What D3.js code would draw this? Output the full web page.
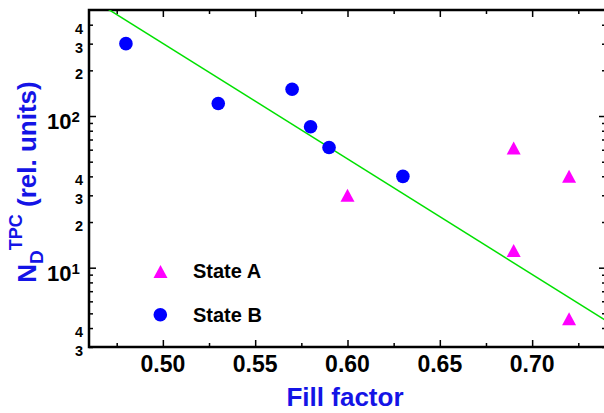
<!DOCTYPE html>
<html>
<head>
<meta charset="utf-8">
<script src="https://cdn.jsdelivr.net/npm/d3@7/dist/d3.min.js"></script>
<style>
  html, body { margin: 0; padding: 0; background: #fff; }
  svg { display: block; }
  text { font-family: "Liberation Sans", Arial, sans-serif; font-weight: bold; }
</style>
</head>
<body>
<svg id="chart" width="604" height="413"></svg>
<script>
// ---- data ----
const stateAX = [0.60, 0.69, 0.69, 0.72, 0.72];
const stateAY = [30, 61.5, 13.0, 40, 4.6];
const stateBX = [0.48, 0.53, 0.57, 0.58, 0.59, 0.63];
const stateBY = [300, 121, 150, 85, 62, 40];
const fitX = [0.46, 0.74];
const fitY = [607, 4.48];
const xMajorTicks = [0.50, 0.55, 0.60, 0.65, 0.70];
const xMinorTicks = [0.475, 0.525, 0.575, 0.625, 0.675, 0.725];
const xTickLabels = ["0.50", "0.55", "0.60", "0.65", "0.70"];
const yMajorTicks = [10, 100];
const yMinorTicks = [3, 4, 5, 6, 7, 8, 9, 20, 30, 40, 50, 60, 70, 80, 90, 200, 300, 400];
const yMinorLabelValues = [3, 4, 20, 30, 40, 200, 300, 400];
const yMinorLabels = ["3", "4", "2", "3", "4", "2", "3", "4"];
const yMajorExp = ["1", "2"];
const legendNames = ["State A", "State B"];

// ---- layout ----
const L = 89, R = 606, T = 10, B = 347;
const svg = d3.select("#chart");
const x = d3.scaleLinear().domain([0.46, 0.74]).range([L, R]);
const y = d3.scaleLog().domain([3, 500]).range([B, T]);

const blue = "#0000ff", magenta = "#ff00ff", green = "#00e000", titleBlue = "#1414e6";

// clip
svg.append("defs").append("clipPath").attr("id", "clip")
  .append("rect").attr("x", L).attr("y", T).attr("width", R - L).attr("height", B - T);

// axes ticks (inward)
function styleAxis(g) {
  g.select(".domain").remove();
  g.selectAll(".tick line").attr("stroke", "#000").attr("stroke-width", 1.5);
  g.selectAll(".tick text").remove();
}
svg.append("g").attr("transform", `translate(0,${B})`)
  .call(d3.axisBottom(x).tickValues(xMajorTicks).tickSize(-7).tickFormat("")).call(styleAxis);
svg.append("g").attr("transform", `translate(0,${B})`)
  .call(d3.axisBottom(x).tickValues(xMinorTicks).tickSize(-4).tickFormat("")).call(styleAxis);
svg.append("g").attr("transform", `translate(0,${T})`)
  .call(d3.axisTop(x).tickValues(xMajorTicks).tickSize(-7).tickFormat("")).call(styleAxis);
svg.append("g").attr("transform", `translate(0,${T})`)
  .call(d3.axisTop(x).tickValues(xMinorTicks).tickSize(-4).tickFormat("")).call(styleAxis);
svg.append("g").attr("transform", `translate(${L},0)`)
  .call(d3.axisLeft(y).tickValues(yMajorTicks).tickSize(-7).tickFormat("")).call(styleAxis);
svg.append("g").attr("transform", `translate(${L},0)`)
  .call(d3.axisLeft(y).tickValues(yMinorTicks).tickSize(-4).tickFormat("")).call(styleAxis);
svg.append("g").attr("transform", `translate(${R},0)`)
  .call(d3.axisRight(y).tickValues(yMajorTicks).tickSize(-7).tickFormat("")).call(styleAxis);
svg.append("g").attr("transform", `translate(${R},0)`)
  .call(d3.axisRight(y).tickValues(yMinorTicks).tickSize(-4).tickFormat("")).call(styleAxis);

// frame
svg.append("rect").attr("x", L).attr("y", T).attr("width", R - L).attr("height", B - T)
  .attr("fill", "none").attr("stroke", "#000").attr("stroke-width", 2.5);

// x tick labels
svg.append("g").selectAll("text").data(xMajorTicks).join("text")
  .attr("x", d => x(d)).attr("y", B + 25)
  .attr("text-anchor", "middle").attr("font-size", 23).attr("fill", "#000")
  .text((d, i) => xTickLabels[i]);

// y minor labels
svg.append("g").selectAll("text").data(yMinorLabelValues).join("text")
  .attr("x", 83).attr("y", d => y(d) + 9)
  .attr("text-anchor", "end").attr("font-size", 14.5).attr("fill", "#000")
  .text((d, i) => yMinorLabels[i]);

// y major labels 10^n
const maj = svg.append("g").selectAll("text").data(yMajorTicks).join("text")
  .attr("x", 47).attr("y", d => y(d) + 13)
  .attr("font-size", 22).attr("fill", "#000");
maj.append("tspan").text("10");
maj.append("tspan").attr("font-size", 15).attr("dy", -7).text((d, i) => yMajorExp[i]);

// fit line
svg.append("path").attr("clip-path", "url(#clip)")
  .datum(fitX.map((d, i) => [d, fitY[i]]))
  .attr("d", d3.line().x(d => x(d[0])).y(d => y(d[1])))
  .attr("fill", "none").attr("stroke", green).attr("stroke-width", 1.5);

// triangle path generator (centered on bounding box)
const triW = 14, triH = 13;
function tri(cx, cy) {
  return `M${cx},${cy - triH / 2}L${cx + triW / 2},${cy + triH / 2}L${cx - triW / 2},${cy + triH / 2}Z`;
}

// State A
svg.append("g").selectAll("path").data(stateAX.map((d, i) => [d, stateAY[i]])).join("path")
  .attr("d", d => tri(x(d[0]), y(d[1]))).attr("fill", magenta);

// State B
svg.append("g").selectAll("circle").data(stateBX.map((d, i) => [d, stateBY[i]])).join("circle")
  .attr("cx", d => x(d[0])).attr("cy", d => y(d[1])).attr("r", 6.8).attr("fill", blue);

// legend
const leg = svg.append("g");
leg.append("path").attr("d", tri(160.5, 271.5)).attr("fill", magenta);
leg.append("circle").attr("cx", 160.3).attr("cy", 314.7).attr("r", 6.8).attr("fill", blue);
leg.selectAll("text").data(legendNames).join("text")
  .attr("x", 193).attr("y", (d, i) => 278 + i * 44)
  .attr("font-size", 20).attr("fill", "#000").text(d => d);

// x title
svg.append("text").attr("x", 345).attr("y", 406).attr("text-anchor", "middle")
  .attr("font-size", 26).attr("fill", titleBlue).text("Fill factor");

// y title
const yt = svg.append("text").attr("transform", "translate(36,182) rotate(-90)")
  .attr("text-anchor", "middle").attr("font-size", 26).attr("fill", titleBlue);
yt.append("tspan").text("N");
yt.append("tspan").attr("font-size", 19).attr("dy", 7).text("D");
yt.append("tspan").attr("font-size", 18).attr("dy", -21).text("TPC");
yt.append("tspan").attr("dy", 14).text(" (rel. units)");
</script>
</body>
</html>
